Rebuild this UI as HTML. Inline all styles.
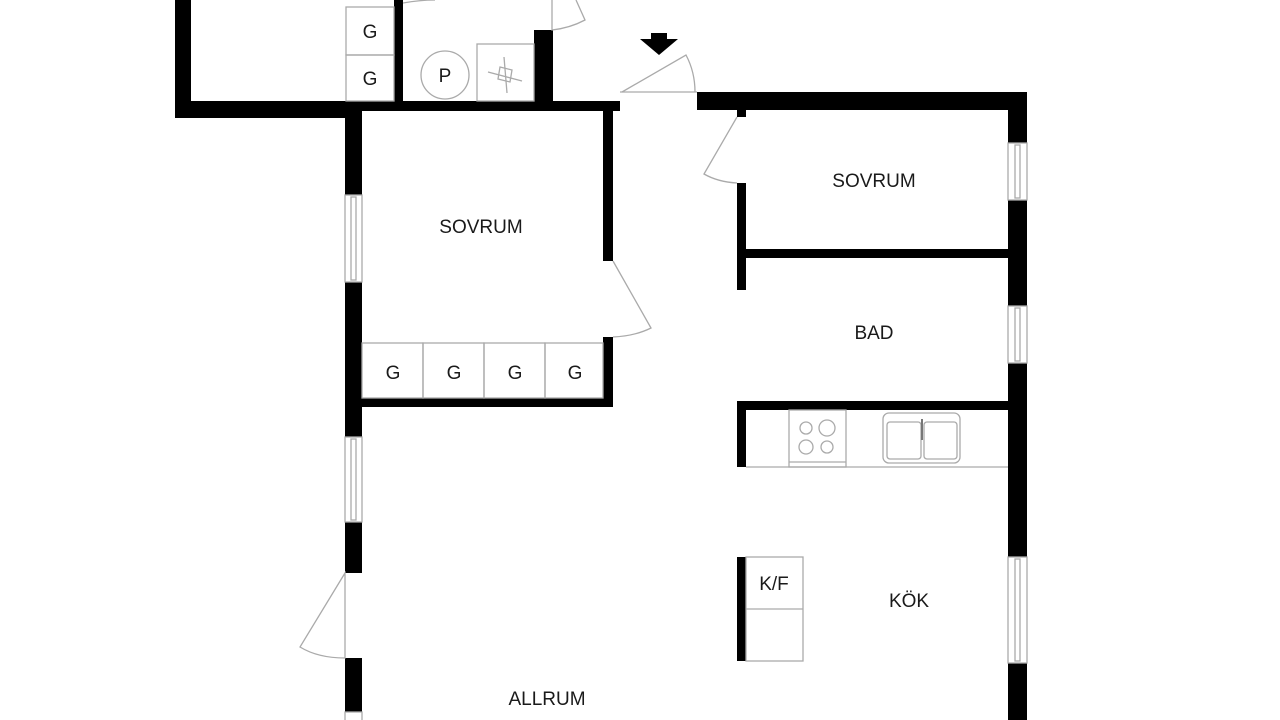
<!DOCTYPE html>
<html><head><meta charset="utf-8"><style>
html,body{margin:0;padding:0;background:#fff;width:1280px;height:720px;overflow:hidden}
text{font-family:"Liberation Sans",sans-serif;fill:#1a1a1a}
</style></head><body>
<svg width="1280" height="720" viewBox="0 0 1280 720" xmlns="http://www.w3.org/2000/svg">
<g fill="#000">
<rect x="175" y="0" width="16" height="118"/>
<rect x="175" y="101" width="187" height="17"/>
<rect x="362" y="101" width="258" height="10"/>
<rect x="394" y="0" width="9" height="102"/>
<rect x="534" y="30" width="19" height="72"/>
<rect x="697" y="92" width="330" height="18"/>
<rect x="345" y="110" width="17" height="85"/>
<rect x="345" y="282" width="17" height="155"/>
<rect x="345" y="522" width="17" height="51"/>
<rect x="345" y="658" width="17" height="54"/>
<rect x="603" y="110" width="10" height="151"/>
<rect x="603" y="337" width="10" height="70"/>
<rect x="362" y="398" width="251" height="9"/>
<rect x="1008" y="92" width="19" height="51"/>
<rect x="1008" y="200" width="19" height="106"/>
<rect x="1008" y="363" width="19" height="194"/>
<rect x="1008" y="663" width="19" height="57"/>
<rect x="737" y="110" width="9" height="7"/>
<rect x="737" y="183" width="9" height="107"/>
<rect x="746" y="249" width="262" height="9"/>
<rect x="737" y="401" width="271" height="9"/>
<rect x="737" y="410" width="9" height="57"/>
<rect x="737" y="557" width="9" height="104"/>
<rect x="651" y="33" width="16" height="6"/>
<polygon points="640,39 678,39 659,55"/>
</g>
<g fill="none" stroke="#aaa" stroke-width="1.3">
<rect x="346" y="7" width="48" height="48"/>
<rect x="346" y="55" width="48" height="46"/>
<circle cx="445" cy="75" r="24"/>
<rect x="477" y="44" width="57" height="57"/>
<line x1="488" y1="72" x2="522" y2="81"/><line x1="504" y1="57" x2="507" y2="93"/>
<path d="M500,67 L512,70 L510,82 L498,79 Z"/>
<path d="M403,3 Q420,0 435,0"/>
<path d="M552,0 L552,30 Q570,28 585,20 L576,0"/>
<line x1="620" y1="92" x2="697" y2="92"/>
<path d="M622,92 L686,55 Q695,72 695,92"/>
<rect x="362" y="343" width="61" height="55"/>
<rect x="423" y="343" width="61" height="55"/>
<rect x="484" y="343" width="61" height="55"/>
<rect x="545" y="343" width="58" height="55"/>
<path d="M613,261 L651,328 Q635,336 613,337"/>
<path d="M737,117 L704,174 Q718,182 737,183"/>
<path d="M345,573 L300,647 Q318,658 345,658 Z"/>
<rect x="345" y="195" width="17" height="87"/><rect x="351" y="197" width="5" height="83"/>
<rect x="345" y="437" width="17" height="85"/><rect x="351" y="439" width="5" height="81"/>
<rect x="345" y="712" width="17" height="10"/>
<rect x="1008" y="143" width="19" height="57"/><rect x="1015" y="145" width="5" height="53"/>
<rect x="1008" y="306" width="19" height="57"/><rect x="1015" y="308" width="5" height="53"/>
<rect x="1008" y="557" width="19" height="106"/><rect x="1015" y="559" width="5" height="102"/>
<line x1="746" y1="467" x2="1008" y2="467"/>
<rect x="789" y="410" width="57" height="57"/>
<line x1="789" y1="462" x2="846" y2="462"/>
<circle cx="806" cy="428" r="6"/><circle cx="827" cy="428" r="8"/>
<circle cx="806" cy="447" r="7"/><circle cx="827" cy="447" r="6"/>
<rect x="883" y="413" width="77" height="50" rx="6"/>
<rect x="887" y="422" width="34" height="37" rx="3"/>
<rect x="924" y="422" width="33" height="37" rx="3"/>
<line x1="922" y1="419" x2="922" y2="440" stroke="#777" stroke-width="2"/>
<rect x="746" y="557" width="57" height="104"/>
<line x1="746" y1="609" x2="803" y2="609"/>
</g>
<g font-size="19" text-anchor="middle">
<text x="370" y="38">G</text>
<text x="370" y="85">G</text>
<text x="445" y="82">P</text>
<text x="393" y="379">G</text>
<text x="454" y="379">G</text>
<text x="515" y="379">G</text>
<text x="575" y="379">G</text>
<text x="481" y="233">SOVRUM</text>
<text x="874" y="187">SOVRUM</text>
<text x="874" y="339">BAD</text>
<text x="909" y="607">KÖK</text>
<text x="774" y="590">K/F</text>
<text x="547" y="705">ALLRUM</text>
</g>
</svg>
</body></html>
